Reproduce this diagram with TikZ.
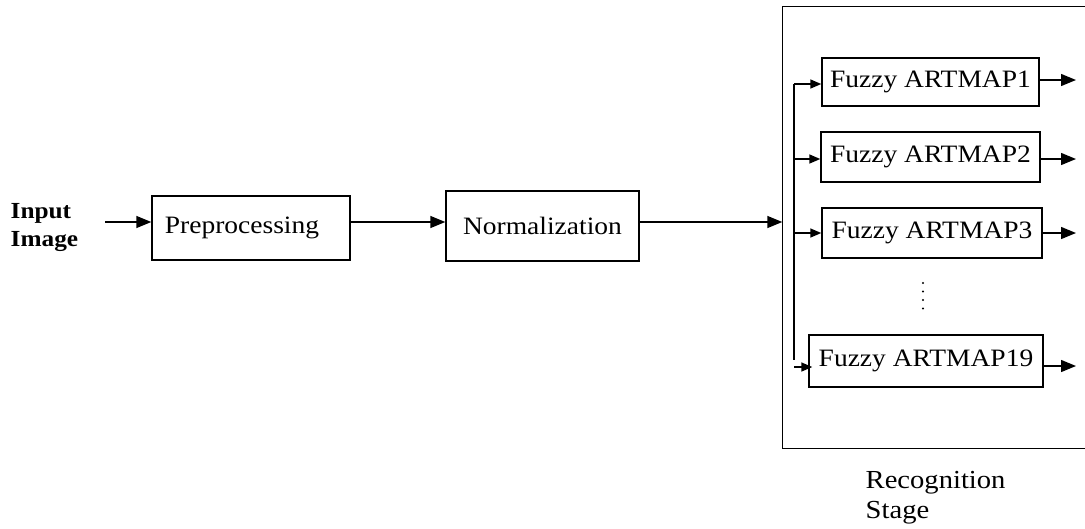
\documentclass[tikz,border=0pt]{standalone}
\usepackage{fontspec}
\setmainfont{Liberation Serif}[FakeStretch=1.1]
\usetikzlibrary{arrows.meta}
\begin{document}
\begin{tikzpicture}[x=1pt,y=-1pt,
  line width=1.4pt,
  box/.style={draw, inner sep=0pt, font=\fontsize{25}{30}\selectfont},
  arr/.style={-{Triangle[length=15pt,width=12pt]}},
  sarr/.style={-{Triangle[length=11pt,width=9pt]}},
  lbl/.style={inner sep=0pt, anchor=west, align=left}]
\clip (0,0) rectangle (1085,528);
\useasboundingbox (0,0) rectangle (1085,528);

% labels
\node[lbl, font=\fontsize{23}{28}\selectfont\bfseries] (inp) at (10,228) {Input\\Image};
\node[lbl, font=\fontsize{26}{30}\selectfont] (rs) at (865,497.5) {Recognition\\Stage};

% main boxes
\node[box, minimum width=198pt, minimum height=64pt] (pre) at (251,228) {Preprocessing\hspace*{18pt}};
\node[box, minimum width=193pt, minimum height=70pt] (norm) at (542.5,226) {Normalization};

% recognition stage frame (right side lies outside the picture)
\node[inner sep=0pt, minimum width=312pt, minimum height=441pt] (stage) at (939,227.5) {};
\draw (stage.north east) -| (stage.south west) -- (stage.south east);

% classifier boxes
\node[box, minimum width=217pt, minimum height=48pt] (f1) at (930.5,82) {Fuzzy ARTMAP1};
\node[box, minimum width=219pt, minimum height=50pt] (f2) at (930.5,157) {Fuzzy ARTMAP2};
\node[box, minimum width=220pt, minimum height=50pt] (f3) at (932,233) {Fuzzy ARTMAP3};
\node[box, minimum width=234pt, minimum height=52pt] (f19) at (926,361) {Fuzzy ARTMAP19};

% vertical dots
\foreach \yy in {283,291.5,300,308.5} \fill (923,\yy) circle (1.1pt);

% main flow
\coordinate (src) at (105,222);
\draw[arr] (src) -- (src -| pre.west);
\draw[arr] (src -| pre.east) -- (src -| norm.west);
\draw[arr] (src -| norm.east) -- (src -| stage.west);

% distribution bus
\coordinate (bt) at (794,84);
\coordinate (bb) at (794,360);
\draw (bt) -- (bb);
\draw[sarr] (bt) -- (bt -| f1.west);
\draw[sarr] ([yshift=-2pt]bt |- f2.west) -- ([yshift=-2pt]f2.west);
\draw[sarr] (bt |- f3.west) -- (f3.west);
\draw[sarr] ([yshift=-6pt]bt |- f19.west) -- ([yshift=-6pt,xshift=4pt]f19.west);

% outputs
\coordinate (out) at (1076,0);
\draw[arr] ([yshift=2pt]f1.east) -- ([yshift=2pt]f1.east -| out);
\draw[arr] ([yshift=-2pt]f2.east) -- ([yshift=-2pt]f2.east -| out);
\draw[arr] (f3.east) -- (f3.east -| out);
\draw[arr] ([yshift=-5pt]f19.east) -- ([yshift=-5pt]f19.east -| out);
\end{tikzpicture}
\end{document}
